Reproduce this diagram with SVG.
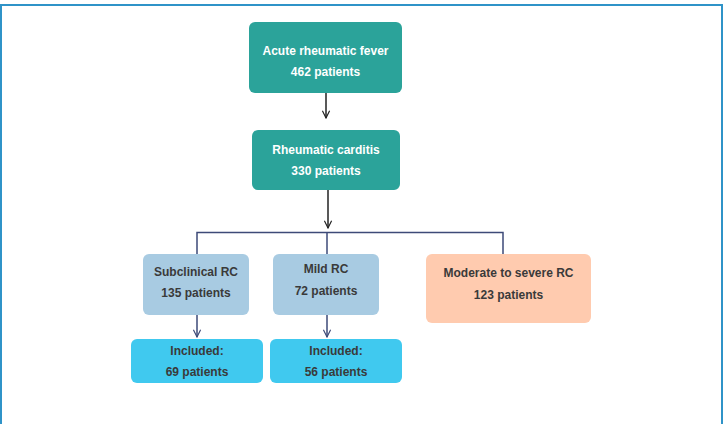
<svg xmlns="http://www.w3.org/2000/svg" width="727" height="424" viewBox="0 0 727 424">
<style>
text{font-family:"Liberation Sans",Arial,sans-serif;font-weight:bold;font-size:12px;text-anchor:middle}
.w{fill:#ffffff}
.d{fill:#3a3a3a}
.teal{fill:#2ba39a}
.lb{fill:#a8cbe2}
.pe{fill:#ffcbaf}
.cy{fill:#40c9ef}
.ln{fill:none;stroke:#3d4a78;stroke-width:1.5}
.k{fill:none;stroke:#222;stroke-width:1.5}
</style>
<defs>
<marker id="ah" viewBox="0 0 10 10" refX="9" refY="5" markerWidth="9" markerHeight="9" markerUnits="userSpaceOnUse" orient="auto">
<path d="M1,1 L9,5 L1,9" fill="none" stroke="context-stroke" stroke-width="1.3"/>
</marker>
</defs>
<rect x="1" y="5" width="721" height="425" fill="#ffffff" stroke="#2f93c8" stroke-width="2"/>
<g id="connectors">
<line class="k" x1="326" y1="93" x2="326" y2="118" marker-end="url(#ah)"/>
<line class="k" x1="328" y1="190" x2="328" y2="228" marker-end="url(#ah)"/>
<polyline class="ln" points="197,254 197,232.5 503,232.5 503,254"/>
<line class="ln" x1="327" y1="232.5" x2="327" y2="254"/>
<line class="ln" x1="197" y1="315" x2="197" y2="337" marker-end="url(#ah)"/>
<line class="ln" x1="327" y1="315" x2="327" y2="337" marker-end="url(#ah)"/>
</g>
<g id="arf">
<rect class="teal" x="249" y="22" width="153" height="71" rx="6"/>
<text class="w" x="325.5" y="55">Acute rheumatic fever</text>
<text class="w" x="325.5" y="76">462 patients</text>
</g>
<g id="rc">
<rect class="teal" x="252" y="130" width="148" height="60" rx="6"/>
<text class="w" x="326" y="154">Rheumatic carditis</text>
<text class="w" x="326" y="175">330 patients</text>
</g>
<g id="subclinical">
<rect class="lb" x="143" y="254" width="106" height="61" rx="6"/>
<text class="d" x="196" y="276">Subclinical RC</text>
<text class="d" x="196" y="297">135 patients</text>
</g>
<g id="mild">
<rect class="lb" x="273" y="254" width="106" height="61" rx="6"/>
<text class="d" x="326" y="273">Mild RC</text>
<text class="d" x="326" y="295">72 patients</text>
</g>
<g id="moderate">
<rect class="pe" x="426" y="254" width="165" height="69" rx="6"/>
<text class="d" x="508.5" y="277">Moderate to severe RC</text>
<text class="d" x="508.5" y="299">123 patients</text>
</g>
<g id="inc1">
<rect class="cy" x="131" y="339" width="132" height="44" rx="6"/>
<text class="d" x="197" y="355">Included:</text>
<text class="d" x="197" y="376">69 patients</text>
</g>
<g id="inc2">
<rect class="cy" x="270" y="339" width="132" height="44" rx="6"/>
<text class="d" x="336" y="355">Included:</text>
<text class="d" x="336" y="376">56 patients</text>
</g>
</svg>
